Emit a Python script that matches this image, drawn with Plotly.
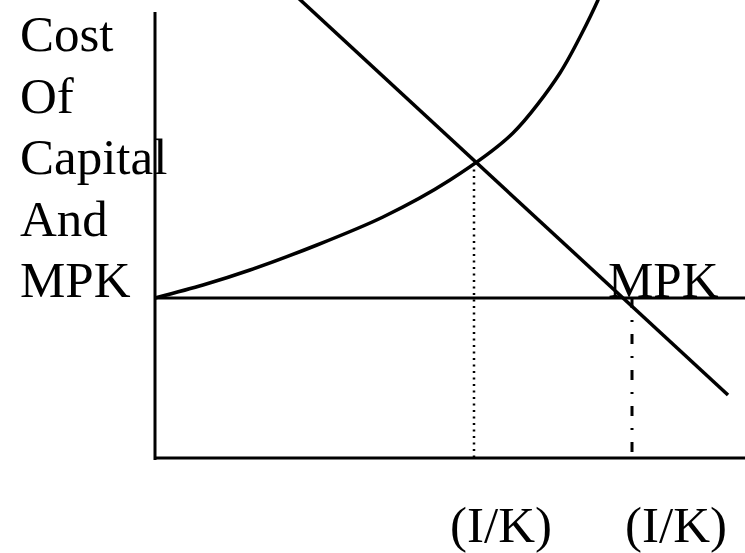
import plotly.graph_objects as go

# Diagram units: origin where the two axes meet, one unit ~ one pixel
axis_top = 446
axis_right = 590
rental_cost = 160

# Cost of capital curve (rises, convex)
cost_x = [0, 48, 95, 162, 228, 295, 358, 405, 443, 453]
cost_y = [160, 173, 188, 213, 241, 278, 325, 385, 458, 485]

# MPK schedule (straight, downward sloping)
mpk_x = [140, 573]
mpk_y = [463, 63]

# the two (I/K) points
ik_first = 319
ik_second = 477
ik_first_y = 295

y_words = ["Cost", "Of", "Capital", "And", "MPK"]
y_word_pos = [424, 362, 301, 239, 178]
x_words = ["(I/K)", "(I/K)"]

black = "black"
fig = go.Figure()

# axes
fig.add_trace(go.Scatter(x=[0, 0], y=[axis_top, -2], mode="lines",
                         line=dict(color=black, width=3)))
fig.add_trace(go.Scatter(x=[0, axis_right], y=[0, 0], mode="lines",
                         line=dict(color=black, width=3)))
# horizontal cost line
fig.add_trace(go.Scatter(x=[0, axis_right], y=[rental_cost, rental_cost], mode="lines",
                         line=dict(color=black, width=3)))
# curves
fig.add_trace(go.Scatter(x=cost_x, y=cost_y, mode="lines",
                         line=dict(color=black, width=3.5, shape="spline", smoothing=0.8)))
fig.add_trace(go.Scatter(x=mpk_x, y=mpk_y, mode="lines",
                         line=dict(color=black, width=3.5)))
# drop lines
fig.add_trace(go.Scatter(x=[ik_first, ik_first], y=[ik_first_y, 0], mode="lines",
                         line=dict(color=black, width=2.5, dash="2px,4.5px")))
fig.add_trace(go.Scatter(x=[ik_second, ik_second], y=[rental_cost, 0], mode="lines",
                         line=dict(color=black, width=3, dash="10px,12px,2px,12px")))

font = dict(family="Liberation Serif, Times New Roman, serif", size=51, color=black)
for word, yy in zip(y_words, y_word_pos):
    fig.add_annotation(x=-137, y=yy, text=word, showarrow=False,
                       xanchor="left", yanchor="middle", font=font)
fig.add_annotation(x=451, y=178, text="MPK", showarrow=False,
                   xanchor="left", yanchor="middle", font=font)
for word, xx in zip(x_words, [346, 521]):
    fig.add_annotation(x=xx, y=-67, text=word, showarrow=False,
                       xanchor="center", yanchor="middle", font=font)

fig.update_xaxes(range=[-155, 590], visible=False)
fig.update_yaxes(range=[-95, 458], visible=False)
fig.update_layout(width=745, height=553, margin=dict(l=0, r=0, t=0, b=0),
                  showlegend=False, plot_bgcolor="white", paper_bgcolor="white")
fig.write_html("out.html", config={"displayModeBar": False},
               post_script="document.body.style.margin='0';")
